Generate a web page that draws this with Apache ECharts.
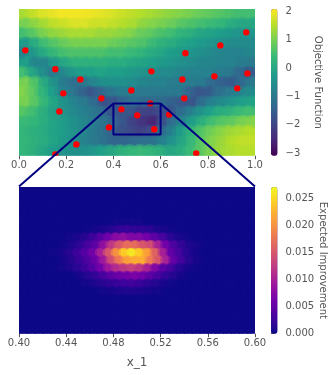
<!DOCTYPE html>
<html><head><meta charset="utf-8">
<style>html,body{margin:0;padding:0;background:#fff}#c{width:331px;height:375px}</style>
<script src="https://cdn.jsdelivr.net/npm/echarts@6/dist/echarts.min.js"></script>
</head><body><div id="c"></div>
<script>
const topTicks = [0, 0.2, 0.4, 0.6, 0.8, 1.0];
const bottomTicks = [0.40, 0.44, 0.48, 0.52, 0.56, 0.60];
const objectiveTicks = [-3, -2, -1, 0, 1, 2];
const improvementTicks = [0, 0.005, 0.01, 0.015, 0.02, 0.025];
// Objective function, top row first
const objectiveRows = [
[1.4,1.6,1.8,1.9,2,2,2,1.95,1.9,1.8,1.7,1.6,1.5,1.4,1.3,1.2,1.1,1.0,0.9,0.8,0.7,0.6,0.5,0.5],
[1.0,1.2,1.4,1.6,1.7,1.8,1.8,1.7,1.7,1.6,1.5,1.4,1.2,1.1,1.0,0.9,0.7,0.6,0.5,0.4,0.3,0.1,0,0],
[0.5,0.7,1.0,1.2,1.3,1.4,1.4,1.4,1.3,1.3,1.2,1.1,0.9,0.8,0.6,0.5,0.3,0.2,0,-0.1,-0.2,-0.3,-0.4,-0.4],
[-0.3,0.1,0.5,0.7,0.9,1.0,1.0,1.0,1.0,0.9,0.8,0.7,0.6,0.4,0.2,0.1,-0.1,-0.2,-0.3,-0.4,-0.5,-0.6,-0.6,-0.6],
[-0.7,-0.4,0,0.3,0.5,0.6,0.6,0.6,0.6,0.5,0.5,0.4,0.3,0.1,0,-0.2,-0.3,-0.4,-0.5,-0.6,-0.7,-0.8,-0.8,-0.7],
[-0.2,-0.7,-0.7,-0.3,0,0.2,0.2,0.2,0.2,0.1,0.1,0,-0.1,-0.2,-0.3,-0.4,-0.5,-0.6,-0.7,-0.7,-0.8,-0.8,-0.9,-1.0],
[0.5,0,-0.5,-0.9,-0.7,-0.4,-0.2,-0.2,-0.1,-0.2,-0.2,-0.3,-0.4,-0.5,-0.6,-0.6,-0.7,-0.8,-0.8,-0.8,-0.9,-1.0,-1.3,-1.6],
[1.0,0.6,0,-0.5,-1.0,-1.2,-1.0,-0.7,-0.5,-0.5,-0.5,-0.6,-0.7,-0.8,-0.8,-0.9,-0.9,-0.9,-1.0,-1.3,-1.5,-1.6,-1.3,-1.0],
[1.1,0.8,0.3,-0.2,-0.7,-1.0,-1.4,-1.7,-1.4,-1.1,-0.9,-0.9,-1.0,-1.0,-1.0,-1.0,-1.0,-1.4,-1.7,-1.6,-1.2,-1.0,-0.8,-0.6],
[1.0,0.7,0.3,-0.1,-0.5,-0.8,-1.0,-1.3,-1.8,-1.7,-1.4,-1.2,-1.3,-1.3,-1.3,-1.5,-1.7,-1.7,-1.2,-0.8,-0.6,-0.4,-0.2,-0.1],
[0.7,0.5,0.2,-0.1,-0.4,-0.6,-0.8,-1.0,-1.2,-1.7,-1.7,-1.7,-2.0,-2.1,-1.9,-1.8,-1.3,-0.9,-0.5,-0.2,0.1,0.2,0.4,0.5],
[0.4,0.3,0.1,-0.1,-0.3,-0.5,-0.7,-0.9,-1.1,-1.4,-1.7,-2.1,-2.3,-2.5,-1.8,-1.2,-0.7,-0.2,0.2,0.5,0.7,0.8,1.0,1.1],
[0.3,0.2,0.1,-0.1,-0.2,-0.4,-0.6,-0.9,-1.1,-1.4,-1.8,-1.9,-2.1,-1.9,-1.4,-0.9,-0.3,0.2,0.6,0.9,1.1,1.3,1.4,1.5],
[0.3,0.2,0.1,-0.1,-0.3,-0.5,-0.8,-1.0,-1.2,-1.4,-1.4,-1.3,-1.2,-1.1,-0.8,-0.4,0,0.4,0.8,1.1,1.3,1.5,1.6,1.6],
[0.3,0.2,0,-0.2,-0.4,-0.5,-0.5,-0.4,-0.2,0,0.2,0.3,0.4,0.3,0.2,0,0.1,0.4,0.7,1.0,1.3,1.4,1.5,1.5]
];
// Expected improvement in thousandths, top row first
const improvementRows = [
[0,0,0,0,0,0,0,0,0,0,0,0,0,0,0,0,0,0,0,0,0,0,0,0,0,0,0,0,0,0],
[0,0,0,0,0,0,0,0,0,0,0,0,0,0,0,0,0,0,0,0,0,0,0,0,0,0,0,0,0,0],
[0,0,0,0,0,0,0,0,0,0,0,0,0,0,0,0,0,0,0,0,0,0,0,0,0,0,0,0,0,0],
[0,0,0,0,0,0,0,0,0,0,0,0,0,0,0,0,0,0,0,0,0,0,0,0,0,0,0,0,0,0],
[0,0,0,0,0,0,0,0,0,0,0,0,0.3,0.3,0.3,0.3,0,0,0,0,0,0,0,0,0,0,0,0,0,0],
[0,0,0,0,0,0,0,0,0.2,0.4,0.8,1.2,2,2.2,1.8,1.8,1.5,0.9,0.5,0.2,0,0,0,0,0,0,0,0,0,0],
[0,0,0,0,0,0,0.3,0.7,1.3,2.5,4,6,7.5,8,7,7,6,4.5,3,1.6,0.8,0.3,0,0,0,0,0,0,0,0],
[0,0,0,0,0,0.3,1,1.8,3,4.5,8,12,15,17,17,15,14,10,6,3.5,2,1,0.4,0,0,0,0,0,0,0],
[0,0,0,0,0.2,0.6,1.3,2.5,4,6,10,15,20,24,26,24,21,16,10,5,3,1.5,0.6,0,0,0,0,0,0,0],
[0,0,0,0,0,0.6,1.3,2.3,3.5,5.5,9,14,18,21,22,22,18,15,10,5,2.8,1.3,0.5,0,0,0,0,0,0,0],
[0,0,0,0,0,0.3,0.8,1.5,2.5,4,6,9,11,12,13,12,10,7,4.5,3,1.5,0.7,0.2,0,0,0,0,0,0,0],
[0,0,0,0,0,0,0,0.6,1.2,2,3,4.5,5.5,6,6.5,6,4.5,3,2,1.2,0.5,0,0,0,0,0,0,0,0,0],
[0,0,0,0,0,0,0,0,0.3,0.7,1.3,1.8,2.2,2.6,2.8,2.4,1.8,1.2,0.7,0.3,0,0,0,0,0,0,0,0,0,0],
[0,0,0,0,0,0,0,0,0,0,0.3,0.5,0.8,1,1,0.8,0.5,0.3,0,0,0,0,0,0,0,0,0,0,0,0],
[0,0,0,0,0,0,0,0,0,0,0,0,0,0,0,0,0,0,0,0,0,0,0,0,0,0,0,0,0,0],
[0,0,0,0,0,0,0,0,0,0,0,0,0,0,0,0,0,0,0,0,0,0,0,0,0,0,0,0,0,0],
[0,0,0,0,0,0,0,0,0,0,0,0,0,0,0,0,0,0,0,0,0,0,0,0,0,0,0,0,0,0],
[0,0,0,0,0,0,0,0,0,0,0,0,0,0,0,0,0,0,0,0,0,0,0,0,0,0,0,0,0,0],
[0,0,0,0,0,0,0,0,0,0,0,0,0,0,0,0,0,0,0,0,0,0,0,0,0,0,0,0,0,0]
];
const sampleX = [0.027,0.154,0.26,0.188,0.171,0.349,0.476,0.561,0.556,0.434,0.501,0.381,0.573,0.636,0.70,0.692,0.705,0.853,0.963,0.968,0.828,0.925,0.243,0.154,0.751];
const sampleY = [0.718,0.589,0.52,0.425,0.302,0.391,0.445,0.575,0.357,0.316,0.275,0.193,0.18,0.28,0.391,0.52,0.698,0.752,0.841,0.561,0.541,0.459,0.077,0.009,0.016];
const zoomBoxX = [0.4,0.6,0.6,0.4,0.4];
const zoomBoxY = [0.355,0.355,0.145,0.145,0.355];
const connectorLeftX = [0.4,0];
const connectorRightX = [0.6,1];
const connectorY = [0.355,-0.21];

const viridis = ['#440154','#482878','#3e4989','#31688e','#26828e','#1f9e89','#35b779','#6ece58','#b5de2b','#fde725'];
const plasma = ['#0d0887','#46039f','#7201a8','#9c179e','#bd3786','#d8576b','#ed7953','#fb9f3a','#fdca26','#f0f921'];
const ink = '#555555', navy = '#000080', F = 'DejaVu Sans';
const zip = (a, b) => a.map((v, i) => [v, b[i]]);

// points for a matrix of values: cell centres in axis units, optional half-cell stagger
function field(rows, x0, x1, scale, stagger) {
  const out = [], nr = rows.length, nc = rows[0].length;
  rows.forEach((row, r) => row.forEach((v, c) => {
    const shift = stagger ? (r % 2 ? 0.25 : -0.25) : 0;
    out.push([x0 + (x1 - x0) * (c + 0.5 + shift) / nc, 1 - (r + 0.5) / nr, v * scale]);
  }));
  return out;
}
const cellRender = (dx, dy) => (params, api) => {
  const p = api.coord([api.value(0), api.value(1)]);
  const s = api.size([dx, dy]);
  return {type: 'rect', shape: {x: p[0] - s[0] / 2 - 0.5, y: p[1] - s[1] / 2 - 0.5, width: s[0] + 1, height: s[1] + 1}, style: {fill: api.visual('color')}};
};
const blobRender = (radius, alpha) => (params, api) => {
  const p = api.coord([api.value(0), api.value(1)]);
  return {type: 'circle', shape: {cx: p[0], cy: p[1], r: radius}, style: {fill: api.visual('color'), opacity: alpha}};
};
const dotRender = radius => (params, api) => {
  const p = api.coord([api.value(0), api.value(1)]);
  return {type: 'circle', shape: {cx: p[0], cy: p[1], r: radius}, style: {fill: '#ff0000'}};
};
const fmtMinus = v => String(v.toFixed(0)).replace('-', '\u2212');
const xAxis = (gridIndex, min, max, ticks, digits, extra) => Object.assign({
  gridIndex, type: 'value', min, max, position: 'bottom',
  splitLine: {show: false}, axisLine: {show: false},
  axisTick: {show: true, length: 3.5, lineStyle: {color: ink, width: 1}, customValues: ticks},
  axisLabel: {color: ink, fontFamily: F, fontSize: 10, margin: 5, hideOverlap: false, showMinLabel: true, showMaxLabel: true, customValues: ticks, formatter: v => v.toFixed(digits)}
}, extra || {});
const hiddenY = i => ({gridIndex: i, type: 'value', min: 0, max: 1, show: false});
const barY = (gridIndex, min, max, ticks, fmt, name, gap) => ({
  gridIndex, type: 'value', min, max, position: 'right',
  splitLine: {show: false}, axisLine: {show: false},
  axisTick: {show: true, length: 3.5, lineStyle: {color: ink, width: 1}, customValues: ticks},
  axisLabel: {color: ink, fontFamily: F, fontSize: 10, margin: 8, customValues: ticks, formatter: fmt},
  name, nameLocation: 'middle', nameRotate: -90, nameGap: gap,
  nameTextStyle: {color: ink, fontFamily: F, fontSize: 10}
});
const vm = (seriesIndex, min, max, colors, top) => ({
  type: 'continuous', seriesIndex, dimension: 2, min, max, left: 271, top, itemWidth: 6.5, itemHeight: 146.7,
  padding: 0, text: [null, null], calculable: false, hoverLink: false, realtime: false,
  inRange: {color: colors}, outOfRange: {color: colors[0]}
});
const customBase = {type: 'custom', clip: true, silent: true, progressive: 0, z: 1};

const chart = echarts.init(document.getElementById('c'), null, {renderer: 'canvas'});
chart.setOption({
  animation: false,
  backgroundColor: '#fff',
  grid: [
    {left: 19, top: 9, width: 236, height: 146.7},
    {left: 19, top: 187, width: 236, height: 146.7},
    {left: 271, top: 9, width: 6.5, height: 146.7},
    {left: 271, top: 187, width: 6.5, height: 146.7}
  ],
  xAxis: [
    xAxis(0, 0, 1, topTicks, 1),
    xAxis(1, 0.4, 0.6, bottomTicks, 2, {name: 'x_1', nameLocation: 'middle', nameGap: 23, nameTextStyle: {color: ink, fontFamily: F, fontSize: 12}}),
    {gridIndex: 2, type: 'value', show: false},
    {gridIndex: 3, type: 'value', show: false}
  ],
  yAxis: [
    hiddenY(0), hiddenY(1),
    barY(2, -3.09, 2.08, objectiveTicks, fmtMinus, 'Objective Function', 35),
    barY(3, 0, 0.0271, improvementTicks, v => v.toFixed(3), 'Expected Improvement', 39)
  ],
  visualMap: [
    vm([0, 1], -3.09, 2.08, viridis, 9),
    vm([6, 7], 0, 0.0271, plasma, 187)
  ],
  series: [
    Object.assign({}, customBase, {xAxisIndex: 0, yAxisIndex: 0, data: field(objectiveRows, 0, 1, 1, false),
      renderItem: cellRender(1 / objectiveRows[0].length, 1 / objectiveRows.length)}),
    Object.assign({}, customBase, {xAxisIndex: 0, yAxisIndex: 0, data: field(objectiveRows, 0, 1, 1, true),
      renderItem: blobRender(7, 0.45)}),
    Object.assign({}, customBase, {xAxisIndex: 0, yAxisIndex: 0, data: zip(sampleX, sampleY), z: 2, renderItem: dotRender(3.2)}),
    {type: 'line', xAxisIndex: 0, yAxisIndex: 0, data: zip(zoomBoxX, zoomBoxY), showSymbol: false, clip: false, silent: true, z: 3,
     lineStyle: {color: navy, width: 2}},
    {type: 'line', xAxisIndex: 0, yAxisIndex: 0, data: zip(connectorLeftX, connectorY), showSymbol: false, clip: false, silent: true, z: 3,
     lineStyle: {color: navy, width: 2}},
    {type: 'line', xAxisIndex: 0, yAxisIndex: 0, data: zip(connectorRightX, connectorY), showSymbol: false, clip: false, silent: true, z: 3,
     lineStyle: {color: navy, width: 2}},
    Object.assign({}, customBase, {xAxisIndex: 1, yAxisIndex: 1, data: field(improvementRows, 0.4, 0.6, 0.001, false),
      renderItem: cellRender(0.2 / improvementRows[0].length, 1 / improvementRows.length)}),
    Object.assign({}, customBase, {xAxisIndex: 1, yAxisIndex: 1, data: field(improvementRows, 0.4, 0.6, 0.001, true),
      renderItem: blobRender(5, 0.6)})
  ]
});
</script></body></html>
